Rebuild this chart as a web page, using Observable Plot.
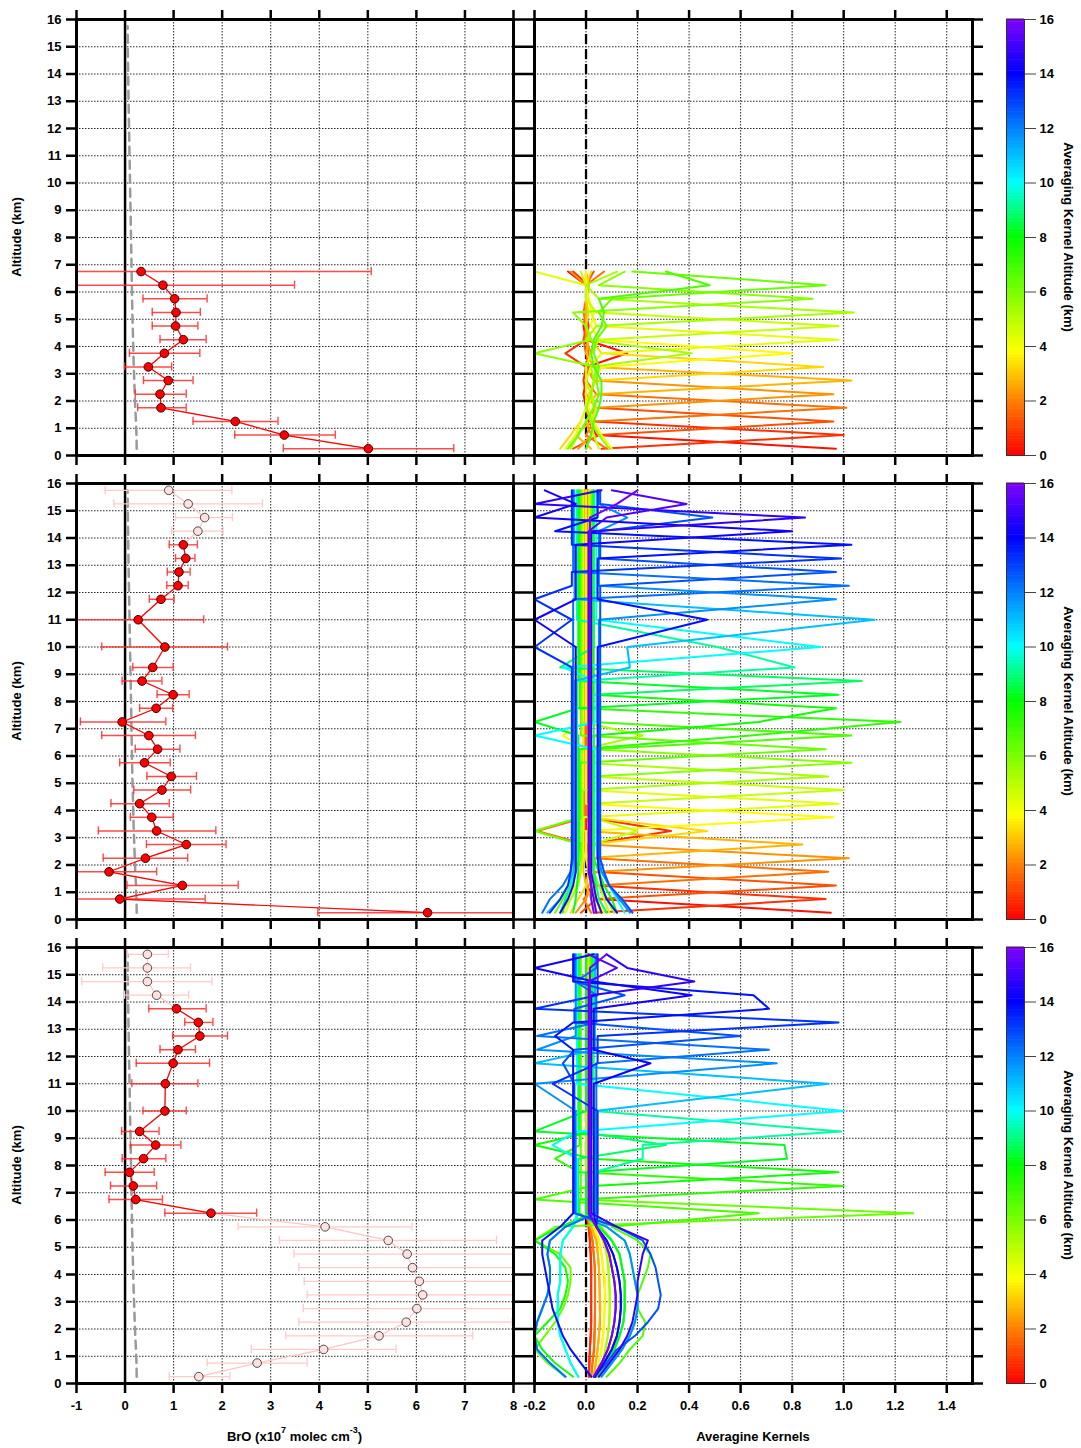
<!DOCTYPE html>
<html><head><meta charset="utf-8">
<script src="https://cdn.jsdelivr.net/npm/d3@7"></script>
<script src="https://cdn.jsdelivr.net/npm/@observablehq/plot@0.6"></script>
<style>
body{margin:0;background:#fff;}
#root{position:relative;width:1081px;height:1448px;overflow:hidden;background:#fff;font-family:"Liberation Sans",Arial,sans-serif;font-weight:bold;color:#000;}
.abs{position:absolute;}
.lab{position:absolute;font-size:13px;font-weight:bold;white-space:nowrap;transform:translate(-50%,-50%);line-height:1;}
.rotL{transform:translate(-50%,-50%) rotate(-90deg);}
.rotR{transform:translate(-50%,-50%) rotate(90deg);}
.lab sup{font-size:9px;vertical-align:top;position:relative;top:-4px;}
</style></head><body><div id="root"></div><script>
// ================= DATA =================
const xTicksBrO = [-1, 0, 1, 2, 3, 4, 5, 6, 7, 8];
const xTicksAK = [-0.2, 0, 0.2, 0.4, 0.6, 0.8, 1.0, 1.2, 1.4];
const altTicks = [0, 1, 2, 3, 4, 5, 6, 7, 8, 9, 10, 11, 12, 13, 14, 15, 16];
const gridAlt = [1, 2, 3, 4, 5, 6, 7, 8, 9, 10, 11, 12, 13, 14, 15];
const cbarTicks = [0, 2, 4, 6, 8, 10, 12, 14, 16];

// a priori (grey dashed)
const priorAlt = [0.25,0.75,1.25,1.75,2.25,2.75,3.25,3.75,4.25,4.75,5.25,5.75,6.25,6.75,7.25,7.75,8.25,8.75,9.25,9.75,10.25,10.75,11.25,11.75,12.25,12.75,13.25,13.75,14.25,14.75,15.25,15.75];
const priorBrO = [0.24,0.235,0.225,0.21,0.2,0.19,0.18,0.172,0.165,0.158,0.15,0.145,0.14,0.135,0.13,0.126,0.12,0.116,0.11,0.105,0.1,0.095,0.09,0.085,0.08,0.075,0.07,0.066,0.062,0.058,0.055,0.052];

// Panel 1 profile
const alt1 = [0.25,0.75,1.25,1.75,2.25,2.75,3.25,3.75,4.25,4.75,5.25,5.75,6.25,6.75];
const bro1 = [5.01,3.28,2.27,0.74,0.72,0.89,0.48,0.81,1.20,1.04,1.05,1.02,0.78,0.33];
const lo1  = [3.26,2.26,1.40,0.26,0.21,0.38,-0.01,0.09,0.72,0.56,0.56,0.37,-1.30,-1.30];
const hi1  = [6.77,4.33,3.15,1.26,1.26,1.40,0.96,1.54,1.67,1.50,1.55,1.69,3.49,5.07];
const fill1 = [1,1,1,1,1,1,1,1,1,1,1,1,1,1];

// Panel 2 profile
const alt2 = [0.25,0.75,1.25,1.75,2.25,2.75,3.25,3.75,4.25,4.75,5.25,5.75,6.25,6.75,7.25,7.75,8.25,8.75,9.25,10.0,11.0,11.75,12.25,12.75,13.25,13.75,14.25,14.75,15.25,15.75];
const bro2 = [6.23,-0.11,1.18,-0.33,0.42,1.26,0.65,0.55,0.30,0.76,0.95,0.40,0.67,0.49,-0.06,0.64,0.99,0.35,0.57,0.82,0.27,0.74,1.09,1.11,1.25,1.20,1.50,1.64,1.30,0.90];
const lo2  = [3.97,-1.30,0.04,-1.30,-0.45,0.44,-0.55,0.11,-0.29,0.18,0.45,-0.11,0.21,-0.48,-0.92,0.30,0.66,-0.06,0.16,-0.48,-1.30,0.50,0.86,0.87,1.04,0.91,0.96,1.04,-0.23,-0.41];
const hi2  = [8.50,1.65,2.33,0.65,1.29,2.08,1.87,0.99,0.91,1.35,1.47,0.93,1.13,1.45,0.84,0.98,1.32,0.76,0.99,2.11,1.62,1.01,1.30,1.34,1.44,1.49,2.02,2.21,2.83,2.20];
const fill2 = [1,1,1,1,1,1,1,1,1,1,1,1,1,1,1,1,1,1,1,1,1,1,1,1,1,1,0,0,0,0];

// Panel 3 profile
const alt3 = alt2;
const bro3 = [1.52,2.72,4.09,5.23,5.79,6.01,6.13,6.06,5.92,5.81,5.42,4.12,1.77,0.22,0.17,0.09,0.38,0.63,0.30,0.82,0.83,0.99,1.09,1.54,1.51,1.06,0.65,0.46,0.46,0.46];
const lo3  = [0.91,1.69,2.60,3.31,3.58,3.67,3.75,3.69,3.58,3.48,3.18,2.33,0.82,-0.33,-0.30,-0.41,-0.06,0.11,-0.07,0.37,0.14,0.23,0.72,0.98,1.23,0.49,-0.01,-0.89,-0.46,0.05];
const hi3  = [2.16,3.75,5.58,7.16,7.97,8.40,8.40,8.40,8.40,8.40,7.65,5.91,2.71,0.77,0.65,0.60,0.84,1.15,0.70,1.26,1.50,1.74,1.45,2.11,1.81,1.67,1.31,1.79,1.35,0.89];
const fill3 = [0,0,0,0,0,0,0,0,0,0,0,0,1,1,1,1,1,1,1,1,1,1,1,1,1,1,0,0,0,0];

// Averaging kernels, panel 1 (rows = kernel altitude, columns = akLevels1)
const akLevels1 = [0.25,0.75,1.25,1.75,2.25,2.75,3.25,3.75,4.25,4.75,5.25,5.75,6.25,6.75];
const akRows1 = [
 [0.97,0.04,0.01,0.00,-0.01,0.00,0.00,0.16,0.00,-0.01,0.00,0.00,0.00,-0.07],
 [0.06,1.00,0.03,0.00,0.00,-0.01,0.00,-0.08,0.00,0.01,0.00,0.00,0.01,-0.05],
 [-0.05,0.05,0.96,0.04,0.00,0.00,0.01,0.00,-0.01,0.00,0.00,0.00,0.00,0.03],
 [0.08,0.00,0.03,1.01,0.04,0.00,0.00,0.01,0.00,0.00,-0.01,0.00,0.00,0.07],
 [-0.03,0.02,0.00,0.04,0.96,0.03,0.00,0.02,0.00,0.00,0.00,0.00,0.00,-0.06],
 [0.02,-0.04,0.02,0.00,0.04,1.03,0.03,0.00,0.01,0.00,0.00,0.00,0.01,0.00],
 [-0.10,-0.06,-0.02,0.00,0.01,0.04,0.92,0.06,0.02,0.00,0.01,0.00,0.00,0.02],
 [0.10,0.06,0.03,0.01,0.02,0.03,0.06,0.80,0.05,0.02,0.03,0.01,0.00,0.00],
 [-0.08,-0.04,-0.02,0.00,0.00,0.00,0.02,0.06,0.98,0.04,0.02,0.01,0.00,-0.20],
 [0.05,0.03,0.02,0.04,0.02,0.00,0.00,0.02,0.05,0.98,0.04,0.00,0.00,-0.02],
 [-0.06,-0.03,0.00,0.03,0.02,0.03,0.02,0.41,0.00,0.04,1.04,0.05,0.00,0.12],
 [0.09,0.05,0.02,0.00,0.02,0.03,0.04,-0.20,0.02,0.00,-0.05,0.88,0.05,0.15],
 [-0.07,-0.03,0.00,0.03,0.05,0.04,0.05,0.03,0.04,0.08,0.05,0.10,0.93,0.18],
 [0.00,0.02,0.03,0.05,0.06,0.06,0.03,0.02,0.03,0.06,0.07,0.05,0.48,0.31]
];

// Averaging kernels, panels 2 and 3 share this retrieval grid
const akLevels = [0.25,0.75,1.25,1.75,2.25,2.75,3.25,3.75,4.25,4.75,5.25,5.75,6.25,6.75,7.25,7.75,8.25,8.75,9.25,10.0,11.0,11.75,12.25,12.75,13.25,13.75,14.25,14.75,15.25,15.75];

// panel 2: diagonal value, typical off-peak value, lowest five levels, single read-off points
const akPeak2 = [0.95,0.93,0.97,0.94,1.02,0.84,0.47,0.96,0.98,1.00,0.94,1.03,0.93,1.03,1.22,0.97,0.98,1.07,0.81,0.91,1.12,0.97,1.02,0.97,0.99,1.03,0.80,0.85,0.39,0.20];
const akStem2 = [0.00,0.005,-0.005,0.00,0.01,-0.01,0.01,0.00,-0.01,0.015,-0.015,0.02,-0.02,0.025,-0.025,0.03,-0.03,0.03,-0.035,0.04,-0.045,0.05,-0.05,0.055,-0.055,0.045,-0.04,0.02,0.01,0.015];
const akLow2 = [
 [0.95,0.04,0.00,0.01,0.00],[0.03,0.93,0.04,0.01,0.00],[-0.02,0.04,0.97,0.03,0.00],[0.02,-0.01,0.04,0.94,0.03],
 [-0.04,0.00,0.01,0.04,1.02],[0.04,0.02,0.00,-0.01,-0.01],[-0.06,-0.03,0.00,0.01,0.01],[0.07,0.04,0.02,0.01,0.00],
 [-0.08,-0.06,-0.04,-0.02,-0.01],[0.09,0.07,0.05,0.03,0.02],[-0.10,-0.06,-0.03,-0.02,-0.015],[0.11,0.08,0.05,0.03,0.02],
 [-0.12,-0.09,-0.06,-0.04,-0.02],[0.06,0.04,0.03,0.03,0.025],[-0.09,-0.08,-0.06,-0.04,-0.03],[0.12,0.10,0.07,0.05,0.03],
 [-0.05,-0.04,-0.035,-0.03,-0.03],[0.08,0.05,0.04,0.03,0.03],[-0.10,-0.08,-0.06,-0.045,-0.035],[0.15,0.12,0.09,0.06,0.045],
 [-0.15,-0.10,-0.07,-0.05,-0.045],[0.17,0.13,0.09,0.06,0.05],[-0.17,-0.14,-0.09,-0.06,-0.05],[0.18,0.14,0.09,0.07,0.055],
 [-0.14,-0.10,-0.07,-0.06,-0.055],[0.12,0.08,0.06,0.05,0.045],[-0.10,-0.07,-0.05,-0.04,-0.04],[0.06,0.04,0.03,0.02,0.02],
 [0.04,0.03,0.02,0.01,0.01],[0.03,0.02,0.02,0.015,0.015]
];
const akExtra2 = [
 [0.75,3.25,0.33],[1.75,3.25,-0.19],[6.25,3.25,-0.20],[4.75,3.25,0.20],
 [3.75,6.75,-0.09],[5.25,6.75,0.22],[7.25,6.75,0.64],[7.75,7.25,0.67],[8.25,7.25,-0.20],[10.0,6.75,-0.20],
 [8.75,9.25,-0.10],[10.0,9.25,-0.09],[11.0,9.25,0.17],[11.0,10.0,0.16],[9.25,10.0,0.51],
 [13.75,11.0,0.47],[14.25,11.0,-0.20],[13.25,10.0,-0.20],[13.25,11.75,-0.20],
 [12.75,14.75,0.49],[11.75,14.75,0.16],[14.25,15.75,-0.16],[14.75,15.25,-0.20],[14.25,14.75,-0.20],
 [13.75,14.25,-0.12],[15.25,15.75,0.10],[15.75,15.25,0.12],[15.25,14.75,0.08],[14.75,15.75,0.06]
];

// panel 3: lower-troposphere profiles (levels 0.25..5.75) read as line shapes
const akLowShapes3 = [
 [0.010,0.012,0.015,0.018,0.020,0.020,0.020,0.020,0.020,0.018,0.015,0.010],
 [0.020,0.025,0.030,0.032,0.034,0.035,0.035,0.035,0.034,0.030,0.025,0.015],
 [0.030,0.038,0.045,0.050,0.052,0.053,0.053,0.052,0.050,0.046,0.040,0.020],
 [0.040,0.050,0.060,0.066,0.070,0.072,0.072,0.070,0.066,0.060,0.050,0.030],
 [0.050,0.065,0.075,0.085,0.090,0.092,0.092,0.090,0.086,0.080,0.065,0.040],
 [0.030,0.060,0.085,0.100,0.110,0.115,0.115,0.110,0.100,0.090,0.070,0.040],
 [0.035,0.070,0.100,0.120,0.130,0.135,0.135,0.130,0.120,0.105,0.080,0.040],
 [0.040,0.080,0.110,0.130,0.145,0.150,0.150,0.150,0.140,0.130,0.100,0.050],
 [0.030,0.080,0.120,0.190,0.240,0.280,0.290,0.280,0.270,0.250,0.220,0.120],
 [0.080,0.130,0.170,0.220,0.230,0.200,0.200,0.220,0.240,0.250,0.200,0.100],
 [-0.080,-0.140,-0.190,-0.200,-0.190,-0.170,-0.150,-0.140,-0.140,-0.150,-0.140,-0.080],
 [0.020,-0.020,-0.060,-0.090,-0.110,-0.130,-0.140,-0.150,-0.160,-0.170,-0.170,-0.100],
 [-0.030,-0.060,-0.080,-0.100,-0.110,-0.110,-0.110,-0.100,-0.100,-0.100,-0.090,-0.050],
 [-0.080,-0.150,-0.200,-0.160,-0.120,-0.090,-0.070,-0.060,-0.060,-0.100,-0.200,-0.120],
 [0.060,0.100,0.140,0.170,0.190,0.200,0.200,0.190,0.180,0.170,0.150,0.080],
 [0.050,0.090,0.130,0.160,0.180,0.190,0.200,0.200,0.210,0.220,0.240,0.120],
 [-0.050,-0.120,-0.170,-0.200,-0.150,-0.100,-0.080,-0.070,-0.080,-0.120,-0.200,-0.100]
];
const akLowShapeOf3 = [0,0,1,1,2,2,3,3,4,4,4,7,13,9,7,16,7,12,14,12,10,14,10,8,6,11,6,15,5,5];
const akPeak3 = [0.012,0.014,0.032,0.034,0.055,0.056,0.075,0.075,0.09,0.085,0.07,0.06,1.27,-0.20,1.00,0.98,0.78,0.31,0.99,1.00,0.94,0.74,0.71,0.60,0.98,0.71,0.41,0.42,0.12,0.08];
const akStem3 = [0.00,0.005,0.00,0.01,0.00,0.01,0.00,0.01,0.00,0.01,0.00,0.015,-0.02,0.02,-0.025,0.025,0.00,-0.03,0.03,-0.035,0.035,-0.04,0.04,-0.045,0.045,-0.05,0.03,0.02,0.01,0.015];
const akExtra3 = [
 [14.25,15.25,-0.20],[13.25,13.75,-0.20],[12.25,12.75,-0.19],[11.75,12.25,-0.19],[13.75,12.75,-0.12],
 [12.75,11.75,-0.09],[11.0,11.75,-0.20],[11.75,11.0,-0.20],[13.25,11.0,-0.13],[14.25,11.75,0.25],
 [8.25,9.25,-0.20],[10.0,8.75,-0.13],[7.75,8.75,-0.20],[7.25,8.25,-0.12],[6.75,6.25,0.67],
 [8.25,8.75,0.77],[9.25,8.75,0.22],[9.25,8.25,0.22],[13.75,14.25,0.65],[14.75,15.75,0.08],
 [14.75,15.25,0.16],[12.75,14.25,0.15],[12.25,14.75,-0.04]
];

// colour table of the kernel altitude
const cDomain = [0, 2, 3.8, 8, 10, 14, 16];
const cRange = ["#ff0000", "#ff8000", "#ffff00", "#00ff00", "#00ffff", "#0000ff", "#8000ff"];

// ================= BUILD =================
const root = document.getElementById("root");
const PANEL_T = [19, 483, 947];
const PH = 436;
const colorOpts = {type: "linear", domain: cDomain, range: cRange};
const baseStyle = {background: "transparent", overflow: "visible", fontFamily: '"Liberation Sans", Arial, sans-serif', fontSize: "13px", fontWeight: "bold", color: "#000"};
const gridStyle = {stroke: "#000", strokeOpacity: 0.85, strokeWidth: 1, strokeDasharray: "1.5,1.5"};
const blank = () => "";

function place(el, left, top) {
  const d = document.createElement("div");
  d.className = "abs"; d.style.left = left + "px"; d.style.top = top + "px";
  d.appendChild(el); root.appendChild(d);
}
function label(html, x, y, cls) {
  const d = document.createElement("div");
  d.className = "lab " + (cls || "");
  d.style.left = x + "px"; d.style.top = y + "px";
  d.innerHTML = html; root.appendChild(d);
}

function leftPlot(alt, bro, lo, hi, fl, bottom) {
  const pts = alt.map((a, j) => ({y: a, x: bro[j], lo: lo[j], hi: hi[j], f: fl[j]}));
  const prior = priorAlt.map((a, j) => ({y: a, x: priorBrO[j]}));
  const open = pts.filter(d => !d.f), full = pts.filter(d => d.f);
  const mb = bottom ? 40 : 15;
  const capL = arr => arr.filter(d => d.lo >= -1);
  const capH = arr => arr.filter(d => d.hi <= 8);
  const cap = {y1: d => d.y - 0.15, y2: d => d.y + 0.15};
  return Plot.plot({
    width: 524, height: 15 + PH + mb, marginLeft: 76, marginRight: 11, marginTop: 15, marginBottom: mb,
    x: {domain: [-1, 8]}, y: {domain: [0, 16]}, style: baseStyle,
    marks: [
      Plot.gridX(xTicksBrO, gridStyle),
      Plot.gridY(gridAlt, gridStyle),
      Plot.ruleX([0], {stroke: "#000", strokeWidth: 2.5}),
      Plot.line(prior, {x: "x", y: "y", stroke: "#9a9a9a", strokeWidth: 2.5, strokeDasharray: "8,6"}),
      Plot.line(pts, {x: "x", y: "y", stroke: "#ffc4c4", strokeWidth: 1.2, clip: true}),
      Plot.ruleY(open, {y: "y", x1: "lo", x2: "hi", stroke: "#ffcaca", strokeWidth: 1.3, clip: true}),
      Plot.ruleX(capL(open), {x: "lo", ...cap, stroke: "#ffcaca", strokeWidth: 1.3}),
      Plot.ruleX(capH(open), {x: "hi", ...cap, stroke: "#ffcaca", strokeWidth: 1.3}),
      Plot.ruleY(full, {y: "y", x1: "lo", x2: "hi", stroke: "#ff2a2a", strokeWidth: 1.4, strokeOpacity: 0.85, clip: true}),
      Plot.ruleX(capL(full), {x: "lo", ...cap, stroke: "#ff2a2a", strokeWidth: 1.4, strokeOpacity: 0.85}),
      Plot.ruleX(capH(full), {x: "hi", ...cap, stroke: "#ff2a2a", strokeWidth: 1.4, strokeOpacity: 0.85}),
      Plot.line(full, {x: "x", y: "y", stroke: "#ff0000", strokeWidth: 1.2}),
      Plot.dot(open, {x: "x", y: "y", r: 4.3, fill: "#fde2e2", stroke: "#5a4444", strokeWidth: 1}),
      Plot.dot(full, {x: "x", y: "y", r: 4.3, fill: "#ff0000", stroke: "#3a0000", strokeWidth: 1}),
      Plot.frame({stroke: "#000", strokeWidth: 3}),
      Plot.axisY(altTicks, {anchor: "left", tickSize: 10, tickPadding: 5, strokeWidth: 2.5, tickFormat: d => String(d), label: null}),
      Plot.axisY(altTicks, {anchor: "right", tickSize: 10, strokeWidth: 2.5, tickFormat: blank, label: null}),
      Plot.axisX(xTicksBrO, {anchor: "bottom", tickSize: 10, tickPadding: 7, strokeWidth: 2.5, tickFormat: bottom ? (d => String(d)) : blank, label: null}),
      Plot.axisX(xTicksBrO, {anchor: "top", tickSize: 10, strokeWidth: 2.5, tickFormat: blank, label: null})
    ]
  });
}

function rightPlot(rows, bottom) {
  const mb = bottom ? 40 : 15;
  return Plot.plot({
    width: 460, height: 15 + PH + mb, marginLeft: 11, marginRight: 11, marginTop: 15, marginBottom: mb,
    x: {domain: [-0.2, 1.5]}, y: {domain: [0, 16]}, color: colorOpts, style: baseStyle,
    marks: [
      Plot.gridX(xTicksAK, gridStyle),
      Plot.gridY(gridAlt, gridStyle),
      Plot.ruleX([0], {stroke: "#000", strokeWidth: 2.3, strokeDasharray: "10,5"}),
      Plot.line(rows, {x: "v", y: "z", z: "k", stroke: "k", strokeWidth: 2, clip: true}),
      Plot.frame({stroke: "#000", strokeWidth: 3}),
      Plot.axisY(altTicks, {anchor: "left", tickSize: 10, strokeWidth: 2.5, tickFormat: blank, label: null}),
      Plot.axisY(altTicks, {anchor: "right", tickSize: 10, strokeWidth: 2.5, tickFormat: blank, label: null}),
      Plot.axisX(xTicksAK, {anchor: "bottom", tickSize: 10, tickPadding: 7, strokeWidth: 2.5, tickFormat: bottom ? (d => d.toFixed(1)) : blank, label: null}),
      Plot.axisX(xTicksAK, {anchor: "top", tickSize: 10, strokeWidth: 2.5, tickFormat: blank, label: null})
    ]
  });
}

function colorBar() {
  const steps = d3.range(0, 16, 0.1);
  return Plot.plot({
    width: 75, height: 15 + PH + 15, marginLeft: 1, marginRight: 56, marginTop: 15, marginBottom: 15,
    x: {domain: [0, 1], axis: null}, y: {domain: [0, 16]}, color: colorOpts, style: baseStyle,
    marks: [
      Plot.rect(steps, {x1: 0, x2: 1, y1: d => d, y2: d => d + 0.12, fill: d => d + 0.05}),
      Plot.frame({stroke: "#333", strokeWidth: 1}),
      Plot.axisY(cbarTicks, {anchor: "right", tickSize: 11, tickPadding: 4, stroke: "#444", strokeWidth: 1, tickFormat: d => String(d), label: null})
    ]
  });
}

// kernel rows
function rowsFromMatrix(levels, matrix) {
  const out = [];
  matrix.forEach((r, ki) => r.forEach((v, zi) => out.push({k: levels[ki], z: levels[zi], v})));
  return out;
}
function applyExtra(rows, extra) {
  for (const [k, z, v] of extra) {
    const r = rows.find(d => d.k === k && d.z === z);
    if (r) r.v = v;
  }
  return rows;
}
const rows1 = rowsFromMatrix(akLevels1, akRows1);
const rows2 = [];
akLevels.forEach((k, ki) => akLevels.forEach((z, zi) => {
  let v = zi < 5 ? akLow2[ki][zi] : akStem2[ki];
  if (zi === ki) v = akPeak2[ki];
  rows2.push({k, z, v});
}));
applyExtra(rows2, akExtra2);
const rows3 = [];
akLevels.forEach((k, ki) => akLevels.forEach((z, zi) => {
  let v = zi < 12 ? akLowShapes3[akLowShapeOf3[ki]][zi] : akStem3[ki];
  if (zi === ki) v = akPeak3[ki];
  rows3.push({k, z, v});
}));
applyExtra(rows3, akExtra3);

const profiles = [[alt1, bro1, lo1, hi1, fill1], [alt2, bro2, lo2, hi2, fill2], [alt3, bro3, lo3, hi3, fill3]];
const akRows = [rows1, rows2, rows3];

for (let i = 0; i < 3; i++) {
  const T = PANEL_T[i];
  const bottom = i === 2;
  place(leftPlot(...profiles[i], bottom), 0, T - 15);
  place(rightPlot(akRows[i], bottom), 523, T - 15);
  place(colorBar(), 1005, T - 15);
  label("Altitude (km)", 16, T + PH / 2, "rotL");
  label("Averaging Kernel Altitude (km)", 1068, T + PH / 2, "rotR");
}
label('BrO (x10<sup>7</sup> molec cm<sup>-3</sup>)', 294.5, 1436);
label("Averagine Kernels", 753, 1436);
</script></body></html>
